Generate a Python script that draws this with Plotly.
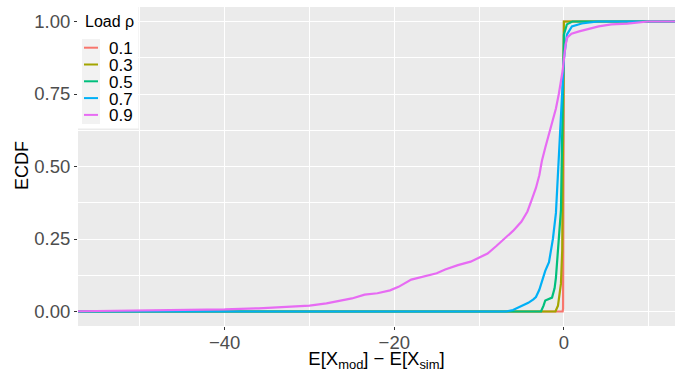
import plotly.graph_objects as go

# ---------------- data ----------------
loads = ["0.1", "0.3", "0.5", "0.7", "0.9"]
colors = ["#F8766D", "#A3A500", "#00BF7D", "#00B0F6", "#E76BF3"]

# ECDF points (x = E[X_mod] - E[X_sim], y = ECDF); ends padded like stat_ecdf
x_01 = [-60, -0.15, -0.1, 0.0, 16]
y_01 = [0.0, 0.0, 0.01, 1.0, 1.0]

x_03 = [-60, -1.0, -0.7, -0.6, -0.35, -0.2, -0.1, -0.05, 0.0, 16]
y_03 = [0.0, 0.0, 0.02, 0.04, 0.096, 0.21, 0.5, 0.9, 1.0, 1.0]

x_05 = [-60, -2.7, -2.4, -2.2, -1.4, -1.1, -0.94, -0.6, -0.35, -0.24, -0.1, 0.0, 0.35, 1.0, 16]
y_05 = [0.0, 0.0, 0.02, 0.038, 0.048, 0.08, 0.117, 0.25, 0.35, 0.55, 0.8, 0.955, 0.99, 1.0, 1.0]

x_07 = [-60, -6.8, -6.0, -5.5, -4.9, -4.2, -3.6, -3.3, -2.9, -2.6, -2.2, -1.76, -1.3,
        -0.94, -0.6, -0.4, -0.24, 0.0, 0.35, 0.94, 2.1, 4.0, 16]
y_07 = [0.0, 0.0, 0.005, 0.012, 0.02, 0.03, 0.042, 0.05, 0.075, 0.107, 0.14, 0.17, 0.25,
        0.34, 0.52, 0.62, 0.725, 0.87, 0.955, 0.983, 0.993, 1.0, 1.0]

x_09 = [-60, -54.1, -48, -43, -40, -36, -33, -30, -28, -26.5, -25, -23.5, -22, -20.5,
        -19.5, -18, -16.5, -15, -14, -12.5, -11, -10, -9, -8, -7, -6, -5, -4.3, -3.8,
        -3.3, -2.9, -2.6, -2.2, -1.76, -1.3, -0.94, -0.6, -0.35, -0.15, 0.0, 0.2, 0.4,
        0.9, 1.8, 2.6, 4.1, 5.6, 7.5, 9.9, 16]
y_09 = [0.0, 0.002, 0.004, 0.006, 0.007, 0.011, 0.016, 0.020, 0.028, 0.036, 0.045, 0.058,
        0.063, 0.073, 0.085, 0.110, 0.122, 0.132, 0.145, 0.160, 0.172, 0.186, 0.200,
        0.225, 0.250, 0.278, 0.310, 0.345, 0.385, 0.426, 0.470, 0.519, 0.565, 0.610,
        0.655, 0.700, 0.750, 0.790, 0.830, 0.870, 0.920, 0.945, 0.958, 0.966, 0.972,
        0.983, 0.990, 0.993, 1.0, 1.0]

series_x = [x_01, x_03, x_05, x_07, x_09]
series_y = [y_01, y_03, y_05, y_07, y_09]

x_ticks = [-40, -20, 0]
x_ticklabels = ["\u221240", "\u221220", "0"]
y_ticks = [0.0, 0.25, 0.5, 0.75, 1.0]
y_ticklabels = ["0.00", "0.25", "0.50", "0.75", "1.00"]

# ---------------- layout constants ----------------
W, H = 675, 372
ML, MR, MT, MB = 78, 0, 7, 46
PW, PH = W - ML - MR, H - MT - MB
FONT = "Liberation Sans, Arial, Helvetica, sans-serif"


def px_x(px):
    return (px - ML) / PW


def px_y(py):
    return (H - MB - py) / PH


fig = go.Figure()
for name, col, xs, ys in zip(loads, colors, series_x, series_y):
    fig.add_trace(go.Scatter(x=xs, y=ys, mode="lines", name=name,
                             line=dict(color=col, width=2.2), showlegend=False))

# ---------------- hand-built ggplot-style legend ----------------
shapes = [
    dict(type="rect", xref="paper", yref="paper", layer="above",
         x0=px_x(78), x1=px_x(138.5), y0=px_y(128.5), y1=px_y(0),
         fillcolor="white", line=dict(width=0)),
    dict(type="rect", xref="paper", yref="paper", layer="above",
         x0=px_x(82), x1=px_x(100), y0=px_y(124), y1=px_y(39),
         fillcolor="#F2F2F2", line=dict(width=0)),
]
annotations = [
    dict(text="Load \u03c1", xref="paper", yref="paper", x=px_x(83), y=px_y(21.5),
         xanchor="left", yanchor="middle", showarrow=False,
         font=dict(family=FONT, size=16, color="black")),
    dict(text="ECDF", xref="paper", yref="paper", x=px_x(22), y=px_y(166),
         xanchor="center", yanchor="middle", textangle=-90, showarrow=False,
         font=dict(family=FONT, size=18, color="black")),
]
key_y0, key_dy = 47.7, 16.8
for i, (name, col) in enumerate(zip(loads, colors)):
    ky = key_y0 + i * key_dy
    shapes.append(dict(type="line", xref="paper", yref="paper", layer="above",
                       x0=px_x(84), x1=px_x(98), y0=px_y(ky), y1=px_y(ky),
                       line=dict(color=col, width=2)))
    annotations.append(dict(text=name, xref="paper", yref="paper",
                            x=px_x(106.5), y=px_y(ky + 1), xanchor="left",
                            yanchor="middle", showarrow=False,
                            font=dict(family=FONT, size=17, color="black")))

fig.update_layout(
    width=W, height=H,
    margin=dict(l=ML, r=MR, t=MT, b=MB, autoexpand=False),
    paper_bgcolor="white", plot_bgcolor="#EBEBEB",
    font=dict(family=FONT, size=18, color="black"),
    shapes=shapes, annotations=annotations,
    showlegend=False,
)
fig.update_xaxes(
    range=[-57.3, 13.1], tickvals=x_ticks, ticktext=x_ticklabels,
    ticks="outside", ticklen=3, tickwidth=1, tickcolor="#333333",
    ticklabelstandoff=-3,
    tickfont=dict(family=FONT, size=18.5, color="#4D4D4D"),
    showgrid=True, gridcolor="white", gridwidth=1.1, zeroline=False, showline=False,
    minor=dict(dtick=10, tick0=0, showgrid=True, gridcolor="white", gridwidth=0.5, ticks=""),
    title=dict(text="E[X<sub>mod</sub>] \u2212 E[X<sub>sim</sub>]",
               font=dict(family=FONT, size=18.5, color="black"), standoff=8),
)
fig.update_yaxes(
    range=[-0.05, 1.05], tickvals=y_ticks, ticktext=y_ticklabels,
    ticks="outside", ticklen=3, tickwidth=1, tickcolor="#333333",
    tickfont=dict(family=FONT, size=18.5, color="#4D4D4D"),
    showgrid=True, gridcolor="white", gridwidth=1.1, zeroline=False, showline=False,
    minor=dict(dtick=0.125, tick0=0, showgrid=True, gridcolor="white", gridwidth=0.5, ticks=""),
)

fig.write_html("out.html", config={"displayModeBar": False},
               post_script="document.body.style.margin='0px';")
